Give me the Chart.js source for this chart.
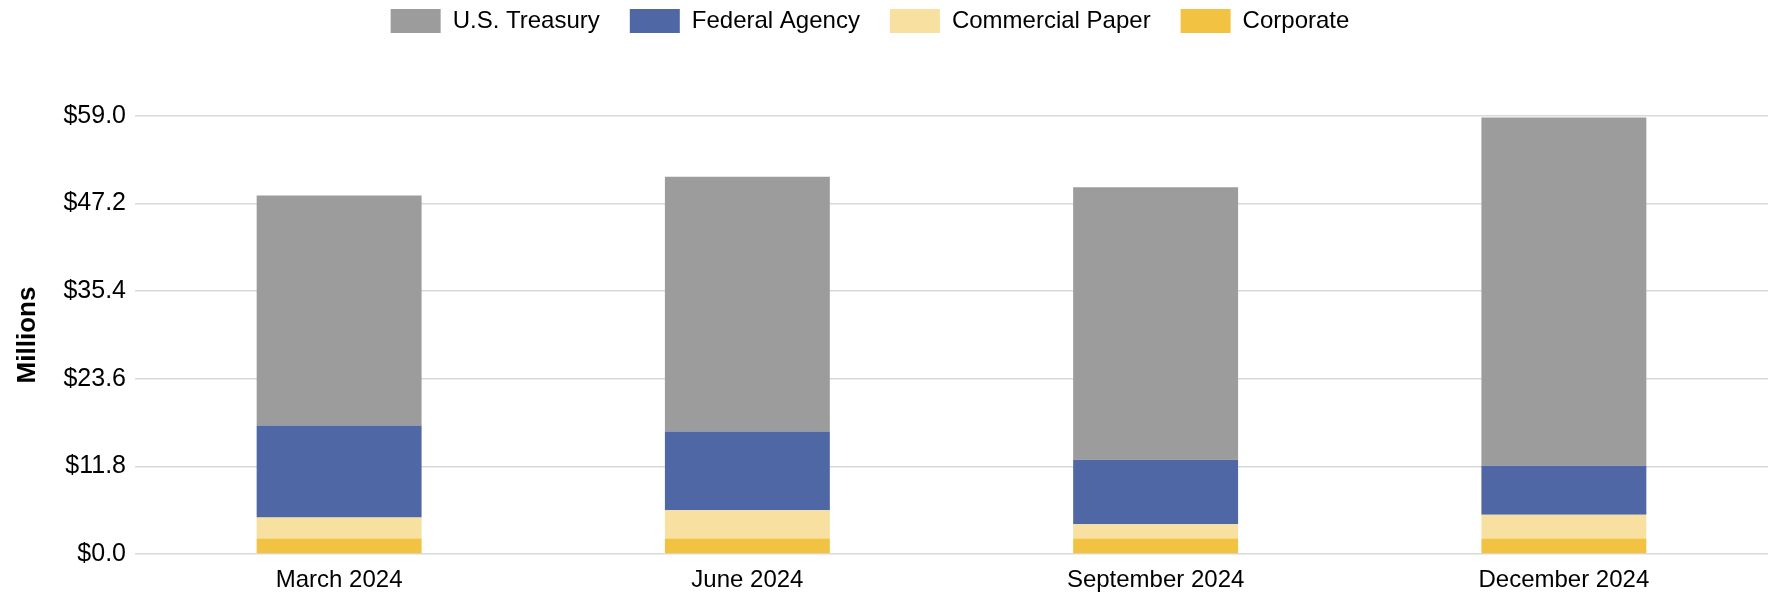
<!DOCTYPE html>
<html>
<head>
<meta charset="utf-8">
<title>Holdings by Type</title>
<script src="https://cdn.jsdelivr.net/npm/chart.js@4"></script>
<style>
  body { margin: 0; background: #fff; }
  #wrap { width: 1769px; height: 595px; }
</style>
</head>
<body>
<div id="wrap"><canvas id="holdingsChart" width="1769" height="595"></canvas></div>
<script>
const quarters = ["March 2024", "June 2024", "September 2024", "December 2024"];

// values in millions of dollars
const corporate = [2.1, 2.1, 2.1, 2.1];
const commercialPaper = [2.8, 3.8, 1.9, 3.2];
const federalAgency = [12.4, 10.6, 8.7, 6.6];
const usTreasury = [31.0, 34.3, 36.7, 46.9];

const yTicks = [0, 11.8, 23.6, 35.4, 47.2, 59.0];

const barColors = {
  treasury: "#9c9c9c",
  agency: "#4f67a4",
  paper: "#f8e0a0",
  corporate: "#f2c343"
};

Chart.defaults.font.family = "'Liberation Sans', Arial, sans-serif";
Chart.defaults.color = "#000";

// extra room under the legend, and nudge it a little left
const legendSpacer = {
  id: "legendSpacer",
  beforeInit(chart) {
    const fitLegend = chart.legend.fit;
    chart.legend.fit = function fit() {
      fitLegend.bind(chart.legend)();
      this.height += 73;
    };
  },
  afterLayout(chart) {
    chart.legend.left -= 14;
    chart.legend.right -= 14;
  }
};

new Chart("holdingsChart", {
  type: "bar",
  data: {
    labels: quarters,
    datasets: [
      { label: "Corporate", data: corporate, backgroundColor: barColors.corporate },
      { label: "Commercial Paper", data: commercialPaper, backgroundColor: barColors.paper },
      { label: "Federal Agency", data: federalAgency, backgroundColor: barColors.agency },
      { label: "U.S. Treasury", data: usTreasury, backgroundColor: barColors.treasury }
    ]
  },
  plugins: [legendSpacer],
  options: {
    responsive: false,
    animation: false,
    layout: { padding: { top: -21, left: 0, right: 1, bottom: 0 } },
    datasets: {
      bar: { categoryPercentage: 0.8, barPercentage: 0.505, borderWidth: 0 }
    },
    plugins: {
      legend: {
        position: "top",
        reverse: true,
        labels: {
          boxWidth: 50,
          boxHeight: 24,
          padding: 30,
          font: { size: 24 }
        }
      },
      tooltip: { enabled: false }
    },
    scales: {
      x: {
        stacked: true,
        afterFit(scale) { scale.height = 41; },
        grid: { display: false, drawTicks: false },
        border: { display: false },
        ticks: { font: { size: 24 }, padding: 12 }
      },
      y: {
        stacked: true,
        min: yTicks[0],
        max: yTicks[yTicks.length - 1],
        afterFit(scale) { scale.width = 135; },
        afterBuildTicks(scale) {
          scale.ticks = yTicks.map(v => ({ value: v }));
        },
        grid: { color: "#d9d9d9", lineWidth: 1.5, drawTicks: false },
        border: { display: false },
        ticks: {
          font: { size: 25 },
          padding: 9,
          callback: v => "$" + Number(v).toFixed(1)
        },
        title: {
          display: true,
          text: "Millions",
          font: { size: 26, weight: "bold" },
          padding: { top: 12, bottom: 4 }
        }
      }
    }
  }
});
</script>
</body>
</html>
